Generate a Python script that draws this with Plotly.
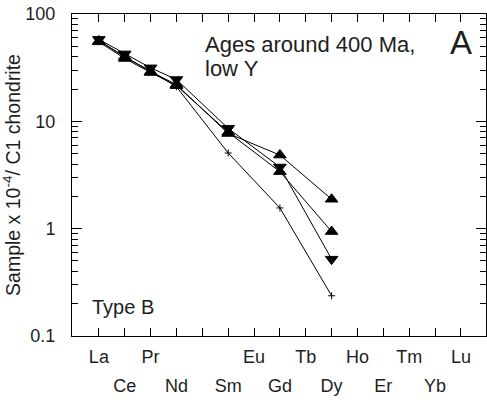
import plotly.graph_objects as go

# REE sequence (Pm has a position but no label / data)
elements = ["La", "Ce", "Pr", "Nd", "Pm", "Sm", "Eu", "Gd", "Tb", "Dy", "Ho", "Er", "Tm", "Yb", "Lu"]
top_row = ["La", "Pr", "Eu", "Tb", "Ho", "Tm", "Lu"]
bottom_row = ["Ce", "Nd", "Sm", "Gd", "Dy", "Er", "Yb"]

plotted = ["La", "Ce", "Pr", "Nd", "Sm", "Gd", "Dy"]
s_up_high = [56, 40, 29, 22, 7.7, 4.85, 1.88]
s_up_mid = [55, 38.5, 28.5, 21.5, 7.9, 3.4, 0.94]
s_down = [58, 42.5, 31.5, 24.5, 8.6, 3.75, 0.52]
s_plus = [57, 39.5, 29.5, 21, 5.07, 1.56, 0.237]

y_tickvals = [0.1, 1, 10, 100]
y_ticktext = ["0.1", "1", "10", "100"]
y_minor = [m * d for d in (0.1, 1, 10) for m in range(2, 10)]

xpos = [elements.index(e) for e in plotted]
FONT = "Liberation Sans, Arial, sans-serif"
TXT = "#1e1e1e"

fig = go.Figure()
series = [
    (s_up_high, "triangle-up", 11),
    (s_up_mid, "triangle-up", 11),
    (s_down, "triangle-down", 11),
    (s_plus, "cross-thin-open", 5),
]
for vals, sym, size in series:
    fig.add_trace(go.Scatter(
        x=xpos, y=vals, mode="lines+markers",
        line=dict(color="black", width=1),
        marker=dict(symbol=sym, size=size, color="black",
                    line=dict(color="black", width=1)),
        showlegend=False, hoverinfo="skip",
    ))
# empty traces to anchor the label axes and right-hand y axis
for xa, ya in (("x2", "y"), ("x3", "y"), ("x", "y2")):
    fig.add_trace(go.Scatter(x=[None], y=[None], xaxis=xa, yaxis=ya,
                             showlegend=False, hoverinfo="skip", mode="markers"))

xr = [-1.04, 14.97]
yr = [-1, 2]
minor = dict(tickmode="array", tickvals=y_minor, ticks="inside",
             ticklen=6, tickcolor="black", tickwidth=1, showgrid=False)
fig.update_layout(
    width=487, height=400,
    margin=dict(l=72, r=1, t=14, b=64),
    plot_bgcolor="white", paper_bgcolor="white",
    font=dict(family=FONT, size=18, color=TXT),
    xaxis=dict(
        range=xr, tickmode="array", tickvals=list(range(len(elements))),
        showticklabels=False,
        ticks="inside", ticklen=8, tickcolor="black", tickwidth=1,
        showline=True, linecolor="black", linewidth=1, mirror="ticks",
        showgrid=False, zeroline=False,
    ),
    xaxis2=dict(
        range=xr, overlaying="x", matches="x", side="bottom", anchor="y",
        tickmode="array", tickvals=[elements.index(e) for e in top_row],
        ticktext=top_row, ticks="", showline=False, showgrid=False,
        zeroline=False, ticklabelstandoff=8,
        tickfont=dict(size=18, family=FONT, color=TXT),
    ),
    xaxis3=dict(
        range=xr, overlaying="x", matches="x", side="bottom", anchor="y",
        tickmode="array", tickvals=[elements.index(e) for e in bottom_row],
        ticktext=bottom_row, ticks="", showline=False, showgrid=False,
        zeroline=False, ticklabelstandoff=37,
        tickfont=dict(size=18, family=FONT, color=TXT),
    ),
    yaxis=dict(
        type="log", range=yr, tickmode="array",
        tickvals=y_tickvals, ticktext=y_ticktext,
        ticks="inside", ticklen=10, tickcolor="black", tickwidth=1,
        minor=minor,
        showline=True, linecolor="black", linewidth=1, mirror="ticks",
        showgrid=False, zeroline=False, ticklabelstandoff=12,
        tickfont=dict(size=18, family=FONT, color=TXT),
        title=dict(text="Sample x 10<sup>-4</sup>/ C1 chondrite",
                   font=dict(size=19.5, family=FONT, color=TXT), standoff=0),
    ),
    yaxis2=dict(
        type="log", range=yr, overlaying="y", matches="y", side="right", anchor="x",
        tickmode="array", tickvals=y_tickvals, showticklabels=False,
        ticks="inside", ticklen=10, tickcolor="black", tickwidth=1,
        minor=minor, showline=False, showgrid=False, zeroline=False,
    ),
)

# text placed by pixel (left edge, baseline), converted to paper coords
W, H = 487, 400
L, R, T, B = 72, 1, 14, 64
pw, ph = W - L - R, H - T - B
labels = [
    ("Ages around 400 Ma,", 203, 54, 22),
    ("low Y", 203, 78, 22),
    ("A", 448, 55, 33),
    ("Type B", 90, 315, 20),
]
ann = []
for text, px, py, fs in labels:
    ann.append(dict(
        text=text, showarrow=False, xref="paper", yref="paper",
        x=(px - L) / pw, y=(H - B - py) / ph, xanchor="left", yanchor="bottom",
        yshift=-fs * 0.23, font=dict(size=fs, family=FONT, color=TXT),
    ))
fig.update_layout(annotations=ann)

fig.write_html("out.html")
